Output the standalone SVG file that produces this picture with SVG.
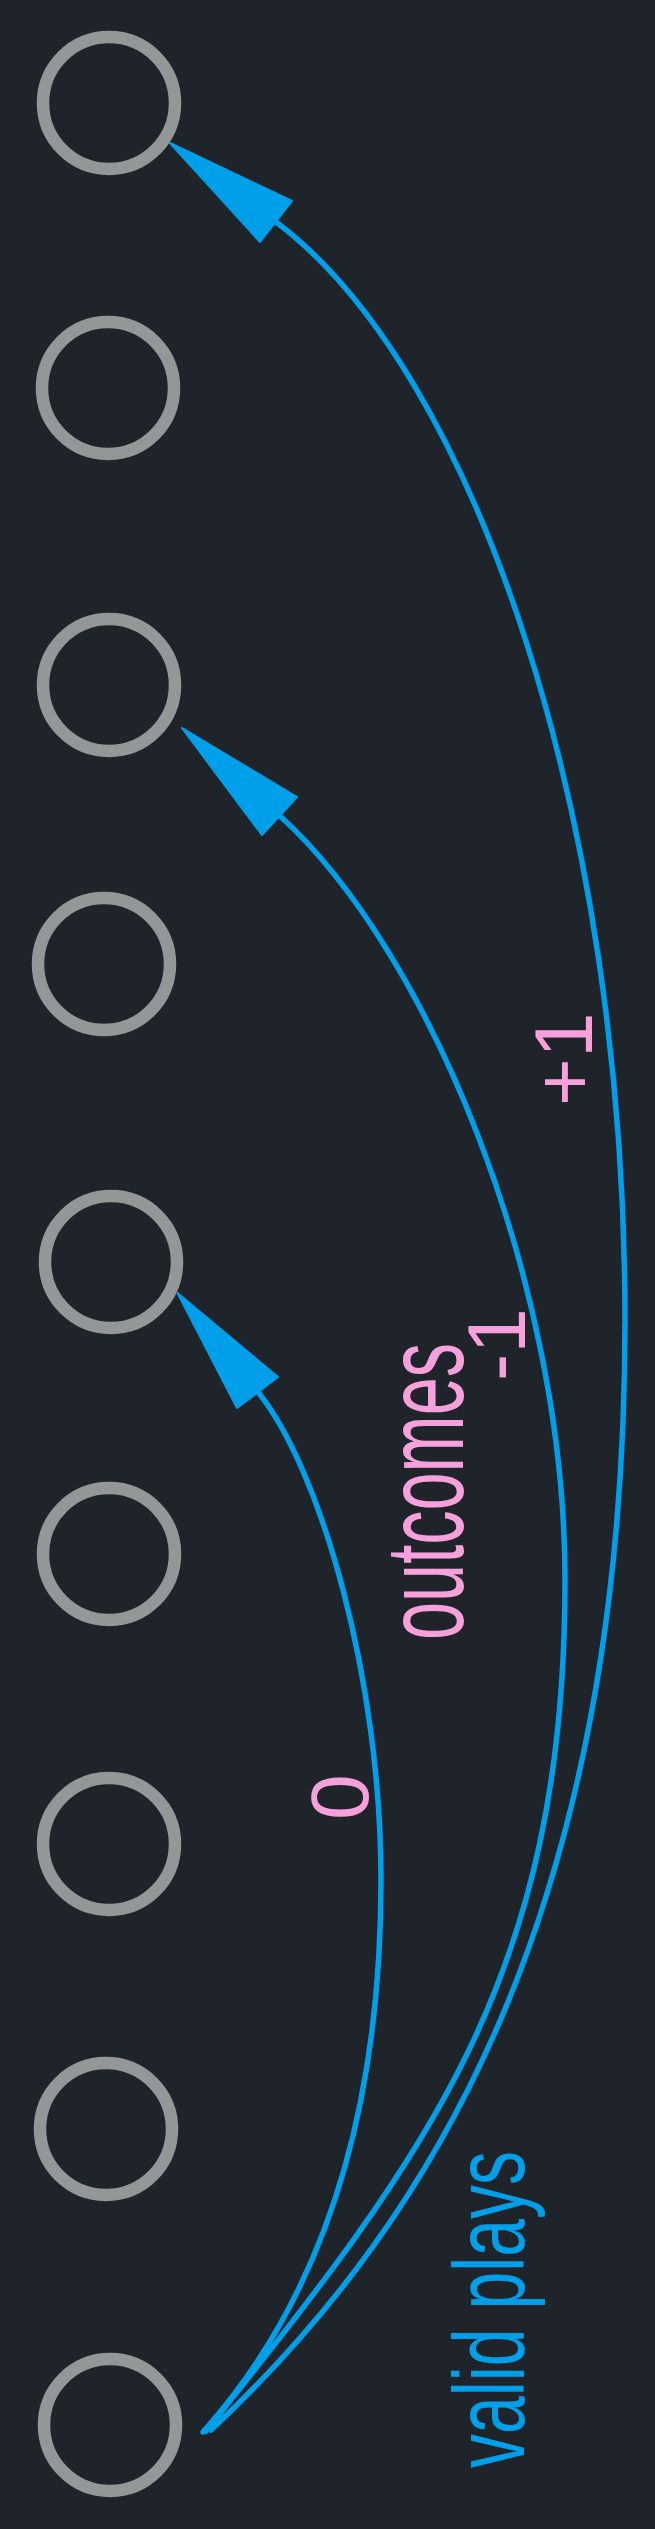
<svg xmlns="http://www.w3.org/2000/svg" width="655" height="2529" viewBox="0 0 655 2529">
<style>
.node{fill:none;stroke:#939797;stroke-width:12.5}
.edge{fill:none;stroke:#009fea;stroke-width:5.5;stroke-linecap:round}
.head{fill:#009fea;stroke:#009fea;stroke-width:2;stroke-linejoin:round}
.lbl{font-family:'Liberation Sans',Arial,Helvetica,sans-serif;fill:#f7a1dc}
.blue{font-family:'Liberation Sans',Arial,Helvetica,sans-serif;fill:#009fea}
</style>
<rect width="655" height="2529" fill="#1f242a"/>
<g id="n1"><circle class="node" cx="109" cy="103" r="66"/></g>
<g id="n2"><circle class="node" cx="108" cy="388" r="66"/></g>
<g id="n3"><circle class="node" cx="109" cy="685" r="66"/></g>
<g id="n4"><circle class="node" cx="104" cy="964" r="66"/></g>
<g id="n5"><circle class="node" cx="111" cy="1262" r="66"/></g>
<g id="n6"><circle class="node" cx="109" cy="1554" r="66"/></g>
<g id="n7"><circle class="node" cx="109" cy="1844" r="66"/></g>
<g id="n8"><circle class="node" cx="106" cy="2129" r="66"/></g>
<g id="n9"><circle class="node" cx="110" cy="2425" r="66"/></g>
<g id="connectors">
<path class="edge" d="M203,2432 C330,2290 381,2100 381,1880 C381,1680 321,1470 258,1392"/>
<polygon class="head" points="177.5,1293 278,1377 237,1408"/>
<path class="edge" d="M206,2431 C426,2155 565,1980 565,1580 C565,1280 428,950 280,816"/>
<polygon class="head" points="182,728 297,797 262,835"/>
<path class="edge" d="M211,2430 C440,2215 625,1900 625,1320 C625,820 476,372 276,222"/>
<polygon class="head" points="170,143 292,201 260,242"/>
</g>
<g id="labels">
<text class="lbl" font-family="Liberation Sans, Arial, sans-serif" font-size="82" transform="translate(368,1820) rotate(-90)">0</text>
<text class="lbl" font-family="Liberation Sans, Arial, sans-serif" font-size="112" textLength="297" lengthAdjust="spacingAndGlyphs" transform="translate(463,1640) rotate(-90)">outcomes</text>
<text class="lbl" font-family="Liberation Sans, Arial, sans-serif" font-size="82" transform="translate(525,1381) rotate(-90)">-1</text>
<text class="lbl" font-family="Liberation Sans, Arial, sans-serif" font-size="82" transform="translate(592,1106) rotate(-90)">+1</text>
<text class="blue" font-family="Liberation Sans, Arial, sans-serif" font-size="100" textLength="317" lengthAdjust="spacingAndGlyphs" transform="translate(524,2468) rotate(-90)">valid plays</text>
</g>
</svg>
